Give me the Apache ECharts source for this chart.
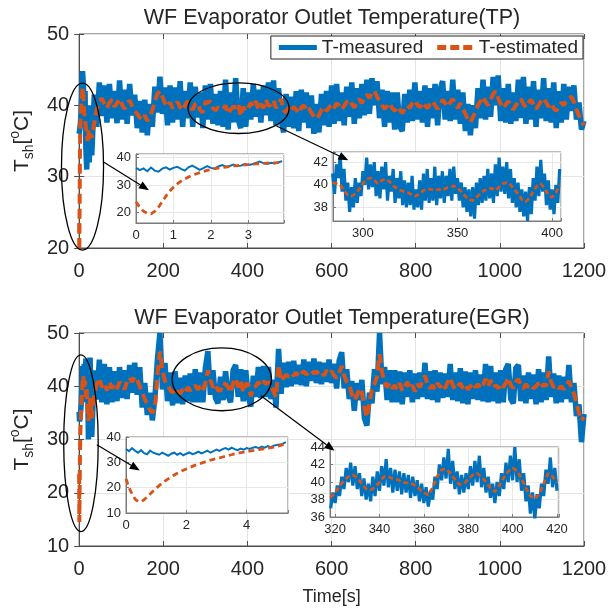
<!DOCTYPE html>
<html>
<head>
<meta charset="utf-8">
<script src="https://cdn.jsdelivr.net/npm/echarts@6/dist/echarts.min.js"></script>
<style>
  html, body { margin: 0; padding: 0; background: #fff; }
  #chart { width: 610px; height: 612px; }
</style>
</head>
<body>
<div id="chart"></div>
<script>
// ---------------- data ----------------
// Main traces: start-up transient as [t, value] pairs, then a 6 s sampled record from t = 30 s.
const MAIN_T0 = 30;
const MAIN_DT = 6;

// TP case
const tpHeadMeasured = [[0,36.0],[1,36.5],[2,37.0],[3,37.5],[4,38.5],[6,41.0],[8,44.8],[10,43.0],[12,38.0],[14,42.0],[16,34.0],[18,31.0],[20,35.0],[22,40.0],[24,32.0],[26,37.0],[28,39.0]];
const tpHeadEstimated = [[0,23.5],[0.4,19.6],[1,25.0],[2,34.0],[3,37.5],[4,38.5],[6,40.5],[8,42.5],[10,41.5],[12,39.0],[14,38.0],[16,37.0],[18,36.0],[20,35.0],[22,36.5],[24,35.0],[26,36.0]];
const tpMeasured = [
  33.0, 41.5, 37.0, 43.2, 38.5, 42.8, 37.6, 43.0, 38.2, 42.0, // 30-84
  37.5, 43.5, 38.0, 42.2, 37.4, 43.0, 38.6, 41.5, 36.8, 40.6, // 90-144
  36.2, 40.8, 35.8, 40.2, 37.0, 42.6, 39.0, 44.0, 38.8, 42.5, // 150-204
  37.2, 42.8, 37.6, 42.5, 38.0, 43.4, 37.0, 42.0, 38.2, 43.2, // 210-264
  37.0, 42.6, 38.3, 41.8, 36.8, 42.8, 38.0, 43.0, 37.4, 41.6, // 270-324
  37.2, 42.0, 37.0, 43.6, 36.6, 41.8, 37.6, 43.8, 38.0, 36.8, // 330-384
  42.4, 37.0, 41.8, 38.0, 43.0, 38.4, 42.2, 37.6, 42.8, 38.6, // 390-444
  43.2, 37.8, 43.5, 37.2, 42.4, 38.0, 36.2, 41.6, 37.0, 41.2, // 450-504
  36.8, 42.0, 36.4, 42.2, 37.6, 41.8, 36.8, 41.4, 36.0, 40.2, // 510-564
  36.2, 41.6, 37.2, 42.0, 37.0, 42.8, 37.4, 43.0, 37.8, 41.8, // 570-624
  37.2, 42.6, 38.4, 43.2, 37.4, 42.4, 38.2, 43.0, 38.6, 43.6, // 630-684
  38.8, 43.8, 40.0, 43.4, 38.2, 42.2, 37.0, 42.0, 37.6, 41.8, // 690-744
  36.6, 41.8, 37.0, 36.4, 41.6, 37.6, 42.2, 37.8, 43.2, 38.0, // 750-804
  42.0, 37.6, 42.8, 37.0, 42.4, 38.2, 43.0, 37.2, 42.2, 43.4, // 810-864
  38.0, 42.0, 37.8, 43.6, 38.0, 42.2, 37.4, 41.8, 36.4, 40.2, // 870-924
  35.8, 40.0, 36.8, 42.4, 38.2, 43.6, 38.0, 42.6, 38.4, 44.0, // 930-984
  40.0, 44.2, 37.8, 42.4, 37.6, 43.0, 37.4, 41.8, 37.8, 43.6, // 990-1044
  38.2, 44.0, 37.4, 42.6, 38.0, 43.4, 37.0, 42.2, 38.2, 43.8, // 1050-1104
  37.8, 42.4, 37.6, 43.2, 36.8, 42.0, 37.6, 43.0, 38.0, 42.6, // 1110-1164
  39.2, 42.8, 38.0, 40.4, 36.6, 37.8                          // 1170-1200
];
const tpEstimated = [
  35.5, 37.5, 39.5, 40.5, 41.0, 40.2, 39.6, 40.4, 40.8, 39.8,
  40.3, 40.9, 40.1, 39.5, 40.2, 40.7, 39.9, 39.2, 38.8, 38.3,
  38.0, 38.6, 37.8, 38.4, 39.3, 40.6, 41.6, 42.0, 41.2, 40.3,
  39.8, 40.4, 39.6, 40.1, 40.5, 39.7, 39.3, 40.0, 40.6, 39.8,
  39.4, 40.2, 40.3, 39.3, 39.0, 40.5, 40.4, 40.6, 39.6, 39.3,
  39.7, 39.6, 39.4, 40.0, 38.8, 39.4, 39.8, 39.7, 40.2, 38.5,
  39.8, 39.2, 39.6, 40.4, 39.8, 40.6, 39.5, 40.2, 39.6, 40.8,
  39.9, 40.1, 40.7, 39.6, 40.1, 40.9, 39.3, 39.0, 39.7, 39.2,
  39.8, 39.4, 38.9, 39.7, 40.0, 39.3, 39.6, 39.0, 38.4, 38.1,
  38.6, 39.4, 39.8, 39.2, 39.7, 40.1, 39.6, 40.3, 40.0, 39.4,
  39.9, 40.5, 40.8, 40.2, 39.7, 40.4, 40.9, 40.3, 41.1, 41.5,
  41.0, 41.8, 42.0, 41.2, 40.6, 40.0, 39.5, 39.9, 40.3, 39.6,
  39.2, 39.8, 39.4, 38.9, 39.5, 40.0, 39.6, 40.3, 40.7, 40.1,
  39.7, 40.4, 40.0, 39.6, 40.2, 40.6, 40.0, 39.5, 40.1, 40.8,
  40.3, 39.8, 40.4, 40.9, 40.2, 39.6, 40.3, 39.5, 38.8, 38.0,
  37.6, 38.3, 39.2, 40.0, 40.6, 41.2, 40.5, 40.0, 40.8, 41.6,
  42.0, 41.0, 40.2, 39.6, 40.1, 40.6, 39.9, 39.4, 40.0, 40.5,
  40.9, 40.2, 39.7, 40.3, 40.8, 40.1, 39.5, 40.0, 40.6, 41.0,
  40.4, 39.8, 40.3, 39.6, 39.2, 39.8, 40.4, 40.0, 40.6, 41.0,
  41.2, 40.5, 39.4, 38.6, 37.8, 37.2
];

// TP close-up of the first seconds (0.1 s steps)
const tpStartT0 = 0, tpStartDt = 0.1;
const tpStartMeasured = [
  36.2, 35.4, 36.0, 35.0, 36.3, 35.2, 34.8, 35.9, 36.4, 35.6,
  36.2, 36.6, 35.8, 35.2, 36.4, 37.0, 36.3, 35.5, 36.1, 36.8,
  36.2, 35.9, 36.7, 37.2, 36.6, 36.9, 37.4, 36.8, 37.0, 37.6,
  37.2, 37.5, 38.0, 38.5, 37.9, 37.6, 38.0, 37.8, 38.2, 38.6
];
const tpStartEstimated = [
  24.0, 22.0, 20.5, 19.8, 19.6, 20.5, 22.0, 24.0, 26.0, 27.8,
  29.2, 30.4, 31.4, 32.2, 32.9, 33.5, 34.0, 34.5, 34.9, 35.3,
  35.6, 35.9, 36.1, 36.3, 36.5, 36.7, 36.9, 37.0, 37.1, 37.3,
  37.4, 37.5, 37.6, 37.7, 37.8, 37.9, 38.0, 38.0, 38.1, 38.2
];

// TP close-up, 284-404 s: measured at 1 s, estimate at 2 s
const tpMidT0 = 284;
const tpMidMeasured = [
  41.0, 39.2, 41.8, 40.6, 42.6, 39.4, 41.4, 38.6, 40.2, 37.6, // 284-293
  39.8, 38.0, 40.6, 38.4, 40.2, 39.0, 41.2, 40.0, 42.4, 39.6, // 294-303
  41.8, 39.8, 42.0, 39.0, 41.2, 38.8, 41.6, 39.6, 42.0, 38.6, // 304-313
  40.8, 39.4, 41.4, 38.4, 40.6, 38.8, 41.2, 38.2, 40.4, 38.0, // 314-323
  40.2, 38.2, 40.8, 37.8, 39.6, 38.0, 40.4, 37.8, 41.0, 38.6, // 324-333
  41.4, 38.4, 40.6, 38.6, 41.6, 38.2, 40.8, 38.8, 41.2, 38.4, // 334-343
  40.8, 39.0, 41.4, 38.6, 41.6, 39.2, 40.6, 38.6, 40.2, 38.0, // 344-353
  39.8, 37.6, 39.6, 37.2, 39.8, 37.0, 40.2, 38.2, 40.6, 38.4, // 354-363
  40.8, 38.6, 41.4, 38.8, 41.0, 38.4, 41.8, 39.0, 42.4, 39.4, // 364-373
  41.6, 39.2, 42.0, 38.8, 41.4, 38.4, 40.6, 38.0, 40.2, 37.6, // 374-383
  39.6, 37.2, 39.4, 36.8, 39.8, 37.4, 40.6, 38.6, 41.6, 39.0, // 384-393
  42.2, 39.4, 41.0, 38.2, 40.4, 37.8, 39.6, 37.4, 40.0, 38.4, // 394-403
  41.4                                                        // 404
];
const tpMidEstimated = [
  40.2, 40.1, 40.0, 39.5, 39.1, 39.0, 39.2, 39.6, 40.1, 40.5,
  40.6, 40.4, 40.1, 40.4, 40.5, 40.3, 39.9, 39.7, 39.5, 39.4,
  39.3, 39.1, 39.0, 39.2, 39.5, 39.6, 39.6, 39.5, 39.6, 39.5,
  39.7, 39.8, 39.9, 39.7, 39.4, 39.0, 38.7, 38.6, 38.9, 39.2,
  39.5, 39.6, 39.7, 39.5, 39.8, 40.1, 40.2, 40.0, 39.6, 39.2,
  38.7, 38.5, 38.8, 39.4, 39.9, 40.1, 39.7, 39.1, 38.9, 39.3,
  40.0
];

// EGR case
const egrHeadMeasured = [[0,35.2],[1,33.4],[2,33.4],[3,35.0],[4,35.6],[5,36.8],[6,39.0],[8,43.8],[10,37.0],[12,44.2],[14,38.0],[16,45.2],[18,37.2],[20,43.0],[22,30.0],[24,36.0],[26,45.4],[28,38.0]];
const egrHeadEstimated = [[0,23.5],[0.5,14.5],[1,19.8],[2,27.4],[3,31.5],[4,34.2],[5,36.3],[6,38.0],[8,40.5],[10,42.0],[12,39.5],[14,41.0],[16,38.0],[18,39.5],[20,36.0],[22,33.5],[24,35.0],[26,38.0],[28,36.5]];
const egrMeasured = [
  30.5, 43.0, 37.5, 45.0, 37.0, 44.2, 36.6, 43.6, 37.0, 42.8, // 30-84
  37.2, 43.6, 37.8, 43.0, 37.6, 44.0, 38.8, 44.4, 38.4, 43.6, // 90-144
  36.0, 40.6, 34.6, 38.8, 33.6, 37.8, 45.0, 50.0, 39.4, 44.4, // 150-204
  37.2, 42.6, 36.4, 42.8, 36.8, 41.6, 36.6, 42.0, 37.2, 42.4, // 210-264
  37.0, 43.2, 37.0, 42.6, 37.0, 43.4, 46.6, 38.4, 43.0, 37.8, // 270-324
  36.8, 41.8, 37.4, 42.8, 38.2, 37.0, 43.0, 44.0, 38.0, 43.2, // 330-384
  37.2, 43.0, 38.0, 36.2, 42.0, 38.0, 43.6, 37.8, 43.8, 38.0, // 390-444
  43.6, 37.6, 41.2, 36.0, 47.0, 38.6, 44.4, 39.8, 44.6, 40.0, // 450-504
  44.8, 40.4, 44.0, 40.2, 45.0, 40.0, 44.6, 41.0, 45.2, 40.6, // 510-564
  44.6, 40.4, 44.4, 40.8, 45.0, 40.6, 44.2, 39.6, 44.8, 46.4, // 570-624
  39.6, 43.2, 37.6, 41.0, 35.4, 40.6, 37.4, 41.2, 34.0, 32.6, // 630-684
  38.8, 36.8, 43.2, 39.0, 50.0, 40.4, 43.6, 37.4, 43.0, 37.0, // 690-744
  43.0, 37.0, 42.8, 36.6, 42.6, 38.0, 43.0, 37.0, 42.4, 37.6, // 750-804
  42.6, 38.0, 44.4, 37.6, 42.8, 37.4, 43.0, 37.0, 42.6, 37.8, // 810-864
  42.4, 38.0, 44.2, 37.4, 42.6, 37.2, 43.4, 36.8, 42.8, 36.6, // 870-924
  42.6, 37.6, 43.0, 37.4, 42.2, 37.2, 44.2, 37.0, 43.8, 37.2, // 930-984
  42.6, 36.8, 43.0, 37.0, 43.2, 44.2, 37.6, 36.8, 43.4, 44.0, // 990-1044
  37.2, 42.0, 36.8, 42.6, 37.6, 42.2, 36.6, 43.2, 37.0, 42.6, // 1050-1104
  37.4, 45.6, 38.0, 42.4, 36.8, 42.0, 37.0, 41.8, 37.6, 44.0, // 1110-1164
  37.0, 40.6, 34.4, 36.6, 29.5, 34.8                          // 1170-1200
];
const egrEstimated = [
  34.0, 38.5, 40.5, 41.5, 39.8, 40.6, 39.2, 40.8, 39.6, 40.3,
  39.5, 40.8, 40.2, 39.4, 41.0, 41.6, 40.8, 41.8, 41.2, 40.0,
  38.8, 37.6, 36.6, 35.6, 35.0, 35.8, 42.0, 46.5, 43.0, 41.0,
  40.2, 39.4, 38.8, 39.6, 39.0, 38.6, 39.4, 38.8, 39.8, 39.2,
  39.6, 40.2, 39.4, 40.0, 39.2, 40.6, 43.0, 41.2, 39.8, 40.4,
  39.2, 39.2, 40.6, 40.4, 39.9, 38.8, 40.6, 41.5, 39.8, 41.0,
  38.9, 40.5, 40.4, 38.1, 39.8, 40.0, 40.8, 40.2, 41.0, 40.4,
  40.8, 40.2, 39.0, 38.0, 44.0, 41.0, 41.6, 42.2, 41.8, 42.4,
  42.0, 42.6, 41.8, 42.4, 42.8, 42.2, 42.6, 43.0, 42.4, 42.8,
  42.2, 42.6, 42.0, 43.0, 42.4, 42.8, 42.0, 41.6, 42.4, 43.8,
  42.0, 40.8, 40.2, 38.6, 37.4, 38.2, 39.6, 38.8, 36.0, 34.2,
  36.8, 39.6, 40.4, 41.8, 46.0, 42.6, 40.8, 39.8, 40.6, 39.6,
  40.2, 39.4, 40.6, 39.2, 40.0, 40.8, 39.6, 40.2, 39.0, 40.4,
  39.8, 41.0, 42.0, 40.4, 39.6, 40.2, 39.4, 40.6, 39.8, 40.4,
  39.6, 40.8, 41.6, 40.2, 39.4, 40.0, 40.6, 39.6, 40.2, 39.4,
  40.0, 40.6, 39.8, 40.4, 39.6, 40.2, 41.4, 40.0, 41.2, 39.8,
  40.2, 39.6, 40.4, 39.8, 40.6, 41.6, 40.2, 39.6, 40.8, 41.4,
  40.0, 39.6, 40.4, 39.8, 40.2, 39.6, 40.0, 40.6, 39.8, 40.4,
  40.0, 42.8, 40.8, 39.8, 40.2, 39.6, 40.0, 39.4, 40.2, 41.0,
  39.8, 38.6, 37.0, 35.0, 33.6, 34.2
];

// EGR close-up of the first seconds (0.1 s steps)
const egrStartT0 = 0, egrStartDt = 0.1;
const egrStartMeasured = [
  35.2, 34.4, 35.6, 34.6, 33.8, 34.8, 33.6, 33.2, 34.6, 33.8,
  33.4, 33.0, 33.8, 33.2, 32.6, 33.4, 33.8, 33.0, 33.6, 32.8,
  33.4, 33.9, 33.2, 33.6, 34.2, 33.5, 34.0, 34.6, 33.8, 34.4,
  35.0, 34.5, 35.2, 35.6, 35.0, 35.8, 35.2, 34.8, 35.4, 35.0,
  35.6, 35.3, 35.8, 36.0, 35.6, 36.2, 35.8, 36.4, 36.0, 36.6,
  36.8, 37.0, 37.4, 38.0
];
const egrStartEstimated = [
  23.5, 20.0, 17.5, 15.5, 14.6, 14.5, 15.2, 16.3, 17.5, 18.7,
  19.8, 20.8, 21.8, 22.7, 23.5, 24.3, 25.0, 25.7, 26.3, 26.9,
  27.4, 27.9, 28.4, 28.9, 29.3, 29.7, 30.1, 30.5, 30.9, 31.2,
  31.5, 31.8, 32.1, 32.4, 32.7, 33.0, 33.3, 33.5, 33.8, 34.0,
  34.2, 34.4, 34.6, 34.8, 35.0, 35.2, 35.4, 35.6, 35.8, 36.0,
  36.3, 36.6, 37.0, 37.6
];

// EGR close-up, 318-420 s: measured at 1 s, estimate at 2 s
const egrMidT0 = 318;
const egrMidMeasured = [
  37.0, 38.8, 37.6, 39.6, 38.4, 40.6, 39.2, 41.6, 40.0, 42.2, // 318-327
  39.6, 41.8, 39.2, 41.0, 38.4, 40.4, 38.0, 39.8, 37.8, 40.6, // 328-337
  38.4, 41.2, 39.0, 41.8, 39.6, 42.6, 39.4, 41.6, 38.8, 41.4, // 338-347
  39.0, 41.2, 38.6, 41.0, 38.8, 40.8, 38.2, 40.6, 38.4, 40.2, // 348-357
  37.8, 39.8, 37.6, 39.4, 37.2, 39.0, 38.0, 40.6, 39.2, 42.0, // 358-367
  40.2, 42.8, 40.4, 43.8, 39.8, 42.4, 39.2, 41.2, 38.6, 40.8, // 368-377
  38.8, 41.0, 39.2, 41.8, 39.6, 42.4, 40.0, 43.0, 39.4, 41.6, // 378-387
  38.8, 40.6, 38.2, 39.8, 37.6, 40.0, 38.4, 41.0, 39.2, 42.2, // 388-397
  40.0, 43.0, 40.2, 44.0, 40.0, 42.6, 39.0, 41.0, 37.8, 39.6, // 398-407
  36.4, 38.8, 35.8, 38.6, 37.0, 39.8, 38.4, 41.4, 39.8, 42.8, // 408-417
  39.4, 41.6, 39.0                                            // 418-420
];
const egrMidEstimated = [
  38.2, 38.8, 39.5, 40.2, 40.6, 40.8, 40.5, 39.8, 39.2, 39.1,
  39.4, 40.0, 40.6, 40.6, 40.4, 40.3, 40.0, 39.9, 39.9, 39.6,
  39.2, 38.8, 38.5, 39.4, 40.6, 41.4, 41.5, 41.0, 40.3, 39.7,
  39.8, 40.3, 40.8, 41.0, 40.6, 40.0, 39.3, 38.9, 39.6, 40.5,
  41.2, 41.6, 41.3, 40.4, 39.3, 38.4, 38.1, 38.6, 39.8, 41.0,
  40.6, 40.0
];

// Axis tick values
const mainTimeTicks = [0, 200, 400, 600, 800, 1000, 1200];
const tpTempRange = [20, 50];
const egrTempRange = [10, 50];

// Callout shapes, in each main panel's data units
const tpEllipses = [{ center: [8, 31.4], radius: [50, 11.7] }, { center: [379, 39.6], radius: [120, 3.55] }];
const tpArrows = [{ from: [57, 32.1], to: [166, 28.1] }, { from: [469, 37.1], to: [640, 32.3] }];
const egrEllipses = [{ center: [4.3, 29.3], radius: [41, 16.6] }, { center: [339, 41.3], radius: [118, 5.9] }];
const egrArrows = [{ from: [42, 29.0], to: [144, 24.2] }, { from: [432, 38.2], to: [607, 27.9] }];

// ---------------- helpers ----------------
const FONT = '"Liberation Sans", Arial, Helvetica, sans-serif';
const BLUE = '#0072BD';
const ORANGE = '#D95319';
const INK = '#262626';
const BOX = '#4d4d4d';
const GRIDLINE = '#e4e4e4';

const sampled = (t0, dt, vals) => vals.map((v, i) => [+(t0 + i * dt).toFixed(4), v]);
const mainTrace = (head, vals) => head.concat(sampled(MAIN_T0, MAIN_DT, vals));

function gridBox(pos, z) {
  return Object.assign({
    show: true, borderColor: z ? '#7a7a7a' : BOX, borderWidth: 1,
    backgroundColor: z ? '#fff' : 'transparent', containLabel: false, z: z || 0
  }, pos);
}

function mainXAxis(gi, withName) {
  return {
    type: 'value', gridIndex: gi, min: mainTimeTicks[0], max: mainTimeTicks[mainTimeTicks.length - 1],
    interval: mainTimeTicks[1] - mainTimeTicks[0],
    axisLine: { show: true, onZero: false, lineStyle: { color: BOX, width: 1 } },
    axisTick: { show: true, inside: true, length: 5, lineStyle: { color: BOX } },
    axisLabel: { fontSize: 20, color: INK, margin: 13, fontFamily: FONT, formatter: v => String(v) },
    splitLine: { show: true, lineStyle: { color: GRIDLINE, width: 1 } },
    name: withName ? 'Time[s]' : '', nameLocation: 'middle', nameGap: 42,
    nameTextStyle: { fontSize: 18, color: INK, fontFamily: FONT }
  };
}

function mainYAxis(gi, range) {
  return {
    type: 'value', gridIndex: gi, min: range[0], max: range[1], interval: 10,
    axisLine: { show: true, lineStyle: { color: BOX, width: 1 } },
    axisTick: { show: true, inside: true, length: 5, lineStyle: { color: BOX } },
    axisLabel: { fontSize: 20, color: INK, margin: 10, fontFamily: FONT },
    splitLine: { show: true, lineStyle: { color: GRIDLINE, width: 1 } },
    name: '{a|T}{b|sh}{a|[}{c|o}{a|C]}', nameLocation: 'middle', nameGap: 42, nameRotate: 90,
    nameTextStyle: {
      fontFamily: FONT, color: INK, fontSize: 21,
      rich: {
        a: { fontSize: 21, lineHeight: 28, color: INK, fontFamily: FONT, verticalAlign: 'middle' },
        b: { fontSize: 14, lineHeight: 14, color: INK, fontFamily: FONT, verticalAlign: 'bottom' },
        c: { fontSize: 14, lineHeight: 14, color: INK, fontFamily: FONT, verticalAlign: 'top' }
      }
    }
  };
}

// Tick marks on the top and right edges of a main panel (box-style frame)
function frameAxis(dim, gi, range, interval) {
  return {
    type: 'value', gridIndex: gi, position: dim === 'x' ? 'top' : 'right',
    min: range[0], max: range[1], interval: interval,
    axisLine: { show: false }, axisLabel: { show: false }, splitLine: { show: false },
    axisTick: { show: true, inside: true, length: 5, lineStyle: { color: BOX } }
  };
}

const hideOffGrid = step => v => (Math.abs(v / step - Math.round(v / step)) < 1e-6 ? String(Math.round(v)) : '');

function insetAxis(kind, gi, cfg) {
  return Object.assign({
    type: 'value', gridIndex: gi, z: 4,
    axisLine: { show: true, onZero: false, lineStyle: { color: '#7a7a7a', width: 1 } },
    axisTick: { show: true, inside: true, length: 3, lineStyle: { color: '#7a7a7a' } },
    axisLabel: { fontSize: 13, color: INK, margin: kind === 'x' ? 6 : 5, fontFamily: FONT, formatter: hideOffGrid(cfg.step) },
    splitLine: { show: true, lineStyle: { color: '#e8e8e8', width: 1 } }
  }, cfg.opt);
}

function measured(xi, data, width, z) {
  return {
    type: 'line', name: 'T-measured', xAxisIndex: xi, yAxisIndex: xi, data: data,
    showSymbol: false, symbol: 'none', z: z,
    lineStyle: { color: BLUE, width: width, join: 'miter', miterLimit: 2 }, itemStyle: { color: BLUE }, silent: true
  };
}
function estimated(xi, data, width, dash, z) {
  return {
    type: 'line', name: 'T-estimated', xAxisIndex: xi, yAxisIndex: xi, data: data,
    showSymbol: false, symbol: 'none', z: z,
    lineStyle: { color: ORANGE, width: width, type: dash }, itemStyle: { color: ORANGE }, silent: true
  };
}

// ---------------- option ----------------
const option = {
  animation: false,
  backgroundColor: '#fff',
  textStyle: { fontFamily: FONT },
  grid: [
    gridBox({ left: 78, top: 34, width: 506, height: 214 }),        // 0 TP main
    gridBox({ left: 136, top: 154, width: 148, height: 69 }, 3),     // 1 TP start close-up
    gridBox({ left: 333, top: 152, width: 228, height: 69 }, 3),     // 2 TP mid close-up
    gridBox({ left: 78, top: 333, width: 506, height: 213 }),       // 3 EGR main
    gridBox({ left: 126, top: 437, width: 162, height: 76 }, 3),     // 4 EGR start close-up
    gridBox({ left: 330, top: 447, width: 229, height: 70 }, 3)      // 5 EGR mid close-up
  ],
  xAxis: [
    mainXAxis(0, false),
    insetAxis('x', 1, { step: 1, opt: { min: 0, max: 3.95, interval: 1 } }),
    insetAxis('x', 2, { step: 50, opt: { min: 284.2, max: 404.7, splitNumber: 2 } }),
    mainXAxis(3, true),
    insetAxis('x', 4, { step: 2, opt: { min: 0, max: 5.37, interval: 2 } }),
    insetAxis('x', 5, { step: 20, opt: { min: 317.7, max: 420.9, splitNumber: 5 } }),
    frameAxis('x', 0, [0, 1200], 200),
    frameAxis('x', 3, [0, 1200], 200)
  ],
  yAxis: [
    mainYAxis(0, tpTempRange),
    insetAxis('y', 1, { step: 10, opt: { min: 16.3, max: 41.2, splitNumber: 2 } }),
    insetAxis('y', 2, { step: 2, opt: { min: 36.8, max: 42.9, splitNumber: 3 } }),
    mainYAxis(3, egrTempRange),
    insetAxis('y', 4, { step: 10, opt: { min: 10, max: 40, interval: 10 } }),
    insetAxis('y', 5, { step: 2, opt: { min: 36, max: 44, interval: 2 } }),
    frameAxis('y', 0, tpTempRange, 10),
    frameAxis('y', 3, egrTempRange, 10)
  ],
  legend: {
    data: [
      { name: 'T-measured', icon: 'rect' },
      { name: 'T-estimated', icon: 'path://M0,0h9v5h-9z M13,0h9v5h-9z M26,0h9v5h-9z' }
    ],
    right: 27, top: 36, orient: 'horizontal',
    itemWidth: 38, itemHeight: 5, itemGap: 14,
    padding: [2, 5, 2, 8],
    borderColor: INK, borderWidth: 1, backgroundColor: '#fff',
    textStyle: { fontSize: 19, color: INK, fontFamily: FONT },
    selectedMode: false
  },
  series: [
    measured(0, mainTrace(tpHeadMeasured, tpMeasured), 5.5, 2),
    estimated(0, mainTrace(tpHeadEstimated, tpEstimated), 4, [10, 5], 2),
    measured(3, mainTrace(egrHeadMeasured, egrMeasured), 5.5, 2),
    estimated(3, mainTrace(egrHeadEstimated, egrEstimated), 4, [10, 5], 2),
    measured(1, sampled(tpStartT0, tpStartDt, tpStartMeasured), 2, 5),
    estimated(1, sampled(tpStartT0, tpStartDt, tpStartEstimated), 2.8, [6, 4], 5),
    measured(2, sampled(tpMidT0, 1, tpMidMeasured), 3.2, 5),
    estimated(2, sampled(tpMidT0, 2, tpMidEstimated), 2.8, [5, 3], 5),
    measured(4, sampled(egrStartT0, egrStartDt, egrStartMeasured), 2, 5),
    estimated(4, sampled(egrStartT0, egrStartDt, egrStartEstimated), 2.8, [6, 4], 5),
    measured(5, sampled(egrMidT0, 1, egrMidMeasured), 3.2, 5),
    estimated(5, sampled(egrMidT0, 2, egrMidEstimated), 2.8, [5, 3], 5)
  ]
};

const chart = echarts.init(document.getElementById('chart'), null, { renderer: 'canvas' });
chart.setOption(option);

// ---------------- titles and callouts ----------------
function callouts(gi, ellipses, arrows) {
  const toPx = p => chart.convertToPixel({ gridIndex: gi }, p);
  const out = [];
  ellipses.forEach(e => {
    const c = toPx(e.center);
    const ex = toPx([e.center[0] + e.radius[0], e.center[1]]);
    const ey = toPx([e.center[0], e.center[1] + e.radius[1]]);
    out.push({
      type: 'ellipse', z: 20, silent: true,
      shape: { cx: c[0], cy: c[1], rx: Math.abs(ex[0] - c[0]), ry: Math.abs(c[1] - ey[1]) },
      style: { fill: 'none', stroke: '#000', lineWidth: 1.3 }
    });
  });
  arrows.forEach(a => {
    const p0 = toPx(a.from), p1 = toPx(a.to);
    const dx = p1[0] - p0[0], dy = p1[1] - p0[1];
    const len = Math.hypot(dx, dy), ux = dx / len, uy = dy / len;
    const head = 10, half = 4;
    const bx = p1[0] - ux * head, by = p1[1] - uy * head;
    out.push({
      type: 'line', z: 20, silent: true,
      shape: { x1: p0[0], y1: p0[1], x2: bx, y2: by },
      style: { stroke: '#000', lineWidth: 1.2 }
    });
    out.push({
      type: 'polygon', z: 20, silent: true,
      shape: { points: [[p1[0], p1[1]], [bx - uy * half, by + ux * half], [bx + uy * half, by - ux * half]] },
      style: { fill: '#000' }
    });
  });
  return out;
}

const titleText = (text, y) => ({
  type: 'text', z: 20, silent: true, x: 332, y: y,
  style: { text: text, fontSize: 21.5, fontFamily: FONT, fill: INK, align: 'center', verticalAlign: 'middle' }
});

chart.setOption({
  graphic: [
    titleText('WF Evaporator Outlet Temperature(TP)', 18),
    titleText('WF Evaporator Outlet Temperature(EGR)', 318)
  ].concat(callouts(0, tpEllipses, tpArrows), callouts(3, egrEllipses, egrArrows))
});
</script>
</body>
</html>
